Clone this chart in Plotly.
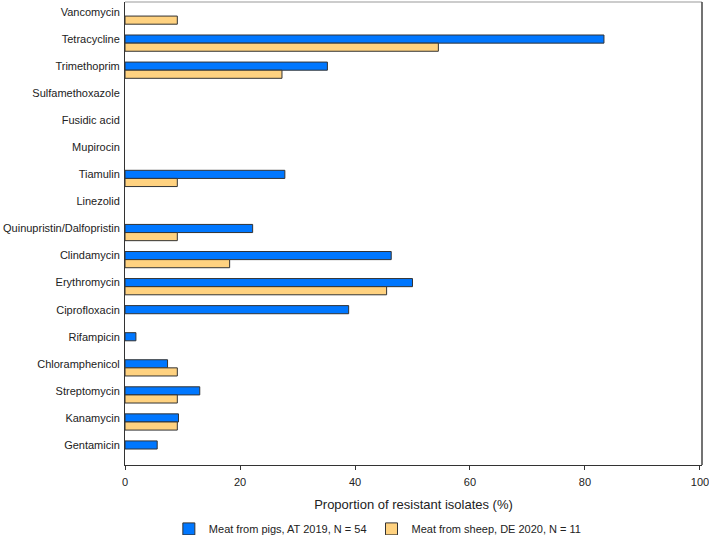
import plotly.graph_objects as go

# antimicrobials, top to bottom
antimicrobials = [
    "Vancomycin", "Tetracycline", "Trimethoprim", "Sulfamethoxazole",
    "Fusidic acid", "Mupirocin", "Tiamulin", "Linezolid",
    "Quinupristin/Dalfopristin", "Clindamycin", "Erythromycin",
    "Ciprofloxacin", "Rifampicin", "Chloramphenicol", "Streptomycin",
    "Kanamycin", "Gentamicin",
]

# % resistant, meat from pigs (AT 2019, N = 54)
pigs = [0, 83.3, 35.2, 0, 0, 0, 27.8, 0, 22.2, 46.3, 50.0, 38.9, 1.9,
        7.4, 13.0, 9.3, 5.6]

# % resistant, meat from sheep (DE 2020, N = 11)
sheep = [9.1, 54.5, 27.3, 0, 0, 0, 9.1, 0, 9.1, 18.2, 45.5, 0, 0,
         9.1, 9.1, 9.1, 0]

series_names = ["Meat from pigs, AT 2019, N = 54",
                "Meat from sheep, DE 2020, N = 11"]

bar_w = 0.30


def no_zero(vals):
    # zero bars would still show their outline at x = 0
    return [v if v > 0 else None for v in vals]


fig = go.Figure()
fig.add_trace(go.Bar(
    y=antimicrobials, x=no_zero(pigs), orientation="h", name=series_names[0],
    marker=dict(color="#0077FF", line=dict(color="#333333", width=1)),
    width=bar_w, offset=-bar_w / 2,
))
fig.add_trace(go.Bar(
    y=antimicrobials, x=no_zero(sheep), orientation="h", name=series_names[1],
    marker=dict(color="#FFD280", line=dict(color="#333333", width=1)),
    width=bar_w, offset=bar_w / 2,
))

fig.update_layout(
    width=709, height=535,
    margin=dict(l=125, r=7, t=2, b=70, autoexpand=False),
    plot_bgcolor="white", paper_bgcolor="white",
    font=dict(family="Liberation Sans, Arial, sans-serif", size=11, color="#222222"),
    barmode="overlay",
    showlegend=True,
    legend=dict(
        orientation="h", x=0.076, y=-0.138, xanchor="left", yanchor="middle",
        font=dict(size=11), itemwidth=30, traceorder="normal",
    ),
    xaxis=dict(
        range=[0, 100.35], tickvals=[0, 20, 40, 60, 80, 100],
        showgrid=False, zeroline=False,
        showline=True, linecolor="#333333", linewidth=1,
        ticks="outside", ticklen=4, tickcolor="#333333",
        ticklabelstandoff=3, ticklabeloverflow="allow",
        title=dict(text="Proportion of resistant isolates (%)", standoff=12),
    ),
    yaxis=dict(
        range=[16.74, -0.37], showgrid=False, zeroline=False,
        showline=True, linecolor="#333333", linewidth=1,
        ticks="", ticklabelstandoff=2,
    ),
    shapes=[
        dict(type="line", xref="paper", yref="paper", x0=0, x1=1, y0=1, y1=1,
             line=dict(color="#999999", width=1)),
        dict(type="line", xref="paper", yref="paper", x0=1, x1=1, y0=0, y1=1,
             line=dict(color="#444444", width=1.5)),
    ],
)

fig.write_html("out.html", config={"displayModeBar": False},
               post_script="document.body.style.margin = '0';")
